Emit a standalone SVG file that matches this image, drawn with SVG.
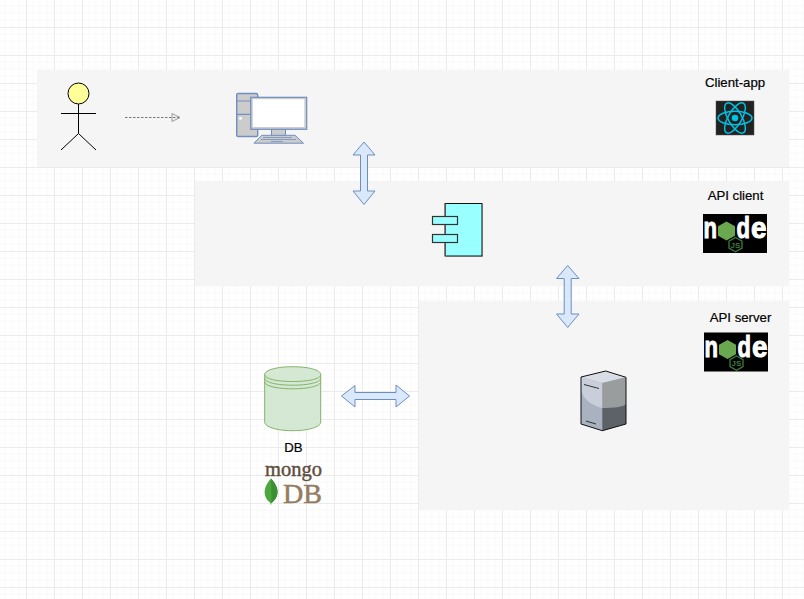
<svg xmlns="http://www.w3.org/2000/svg" width="804" height="599" viewBox="0 0 804 599">
<style>
.panel{fill:#f5f5f5}
.label{font-family:"Liberation Sans",Arial,sans-serif;font-size:13.200px;fill:#000;stroke:#000;stroke-width:0.200;text-anchor:middle}
.dbl{fill:#dae8fc;stroke:#6c8ebf;stroke-width:1}
.cyl{fill:#d5e8d4;stroke:#82b366;stroke-width:1}
.arc{fill:none;stroke:#82b366;stroke-width:1}
.pc{fill:#ccc;stroke:#6f8fc0;stroke-width:1.400}
.nd{font-family:"Liberation Sans",Arial,sans-serif;font-weight:bold;font-size:30px;fill:#fff;stroke:#fff;stroke-width:1}
</style>
<defs>
<pattern id="grid" width="28" height="28" patternUnits="userSpaceOnUse" x="-2" y="-1">
<path d="M7 0V28M14 0V28M21 0V28M0 7H28M0 14H28M0 21H28" fill="none" stroke="#f9f9f9" stroke-width="1"/>
<path d="M0.500 0V28M0 0.500H28" fill="none" stroke="#ebebeb" stroke-width="1"/>
</pattern>
<g id="nodelogo">
<rect width="64" height="39" fill="#000"/>
<text class="nd" x="0.500" y="24" textLength="13.500" lengthAdjust="spacingAndGlyphs">n</text>
<path d="M23.500 7.500L32 12.300V21.700L23.500 26.500L15 21.700V12.300Z" fill="#6aa84f"/>
<text class="nd" x="33.500" y="24" textLength="13.500" lengthAdjust="spacingAndGlyphs">d</text>
<text class="nd" x="48" y="24" textLength="15.500" lengthAdjust="spacingAndGlyphs">e</text>
<path d="M32.500 23.500L39 27.200V34L32.500 37.700L26 34V27.200Z" fill="none" stroke="#3f7a3a" stroke-width="1.300"/>
<text x="32.500" y="33.500" font-family="Liberation Sans, Arial, sans-serif" font-size="8" font-weight="bold" fill="#3f7a3a" text-anchor="middle">JS</text>
</g>
<marker id="open" markerWidth="12" markerHeight="12" refX="9" refY="5" orient="auto" markerUnits="userSpaceOnUse">
<path d="M1 1L9 5L1 9Z" fill="none" stroke="#999" stroke-width="1"/>
</marker>
</defs>
<rect width="804" height="599" fill="#fff"/>
<rect width="804" height="599" fill="url(#grid)"/>

<rect class="panel" x="37" y="70" width="752" height="97"/>
<rect class="panel" x="195" y="181" width="594" height="105"/>
<rect class="panel" x="419" y="301" width="370" height="209"/>

<g id="actor" fill="none" stroke="#000" stroke-width="1">
<circle cx="78.500" cy="93.500" r="10.500" fill="#ffff99"/>
<path d="M78.500 104V133.500M61 113.500H96M78.500 133.500L61 150M78.500 133.500L96 150"/>
</g>

<g id="computer">
<rect class="pc" x="236.700" y="93.500" width="21" height="43" rx="1.500"/>
<path d="M236.700 101H257.700M236.700 114.300H257.700" stroke="#6f8fc0" stroke-width="1.200" fill="none"/>
<circle cx="240.500" cy="118.400" r="1.400" fill="#fff"/>
<rect x="271.500" y="129" width="14" height="6.500" fill="#ccc" stroke="#6f8fc0"/>
<rect x="250.700" y="97.300" width="56" height="32" fill="#ccc" stroke="#6f8fc0" stroke-width="1.200"/>
<rect x="252.800" y="99.200" width="51.500" height="27.800" fill="#fff"/>
<path d="M261.700 135.300H295L303.500 143.200H254Z" fill="#ccc" stroke="#6f8fc0" stroke-width="1"/>
<path d="M263 137.500H292M261 139.500H296M271 141.500H283" stroke="#6f8fc0" stroke-width="0.800" fill="none"/>
</g>

<g id="component">
<rect x="446" y="204" width="37" height="53" fill="#c8c8c8"/>
<rect x="445" y="203.500" width="37" height="52.500" fill="#99ffff" stroke="#111" stroke-width="1"/>
<rect x="445" y="203.500" width="1" height="52.500" fill="#555"/>
<rect x="432.500" y="216.500" width="25" height="8" fill="#99ffff" stroke="#333" stroke-width="1.200"/>
<rect x="432.500" y="234.500" width="25" height="8" fill="#99ffff" stroke="#333" stroke-width="1.200"/>
</g>

<g id="server">
<path d="M581 377L605.700 371L626 377.300V424L602.300 430.700L581 424Z" fill="#a9b2c0"/>
<path d="M581 377L605.700 371L626 377.300L602.300 383Z" fill="#d8dde6"/>
<path d="M581 377L602.300 383V408C592 406 583 399 581 390Z" fill="#c8cfda"/>
<path d="M602.300 383L626 377.300V404C624 407 612 408 602.300 408Z" fill="#9a9d9d"/>
<path d="M602.300 408C612 408 624 407 626 404V424L602.300 430.700Z" fill="#5c6268"/>
<path d="M581 377L605.700 371L626 377.300V424L602.300 430.700L581 424Z" fill="none" stroke="#111" stroke-width="1"/>
<path d="M584 384.500L599 388.500M586 421L596 424" stroke="#333" stroke-width="1" fill="none"/>
</g>

<g id="db">
<path class="cyl" d="M264.700 374.500C264.700 370 277 366.700 292.700 366.700C308.400 366.700 320.700 370 320.700 374.500V422C320.700 427 308.400 430.700 292.700 430.700C277 430.700 264.700 427 264.700 422Z"/>
<path class="arc" d="M264.700 374.500C264.700 379 277 381.500 292.700 381.500C308.400 381.500 320.700 379 320.700 374.500M264.700 378C264.700 382.500 277 385.200 292.700 385.200C308.400 385.200 320.700 382.500 320.700 378M264.700 381.700C264.700 386 277 388.800 292.700 388.800C308.400 388.800 320.700 386 320.700 381.700"/>
<text class="label" x="293.300" y="452">DB</text>
</g>

<g id="mongodb">
<text x="265" y="476" font-family="Liberation Serif, Times New Roman, serif" font-size="20" fill="#5e4d3c" stroke="#5e4d3c" stroke-width="0.400" textLength="57" lengthAdjust="spacingAndGlyphs">mongo</text>
<text x="283" y="503" font-family="Liberation Serif, Times New Roman, serif" font-size="27.500" fill="#957c5f" stroke="#957c5f" stroke-width="0.500" textLength="39" lengthAdjust="spacingAndGlyphs">DB</text>
<path d="M271 478.500C276 484 278 489 277.500 493C277 498 274 501 271.500 503L271 505.500L270.500 503C268 501 265 498 264.700 493C264.500 489 266 484 271 478.500Z" fill="#4aa83c"/>
<path d="M271 478.500C276 484 278 489 277.500 493C277 498 274 501 271.500 503Z" fill="#3d8f33"/>
</g>

<g id="react-logo">
<rect x="716" y="101" width="38" height="34" fill="#222" stroke="#555" stroke-width="0.500"/>
<g fill="none" stroke="#00c2e3" stroke-width="1.500">
<ellipse cx="735" cy="118" rx="17" ry="6.800"/>
<ellipse cx="735" cy="118" rx="17" ry="6.800" transform="rotate(60 735 118)"/>
<ellipse cx="735" cy="118" rx="17" ry="6.800" transform="rotate(-60 735 118)"/>
</g>
<circle cx="735" cy="118" r="3.300" fill="#00c2e3"/>
</g>
<g id="client-app"><text class="label" x="735" y="87">Client-app</text></g>

<g id="api-client">
<text class="label" x="735.500" y="200">API client</text>
<use href="#nodelogo" x="703" y="214"/>
</g>

<g id="api-server">
<text class="label" x="740.500" y="322">API server</text>
<use href="#nodelogo" x="704" y="332.500"/>
</g>

<g id="connectors">
<path d="M125 117.500H180" fill="none" stroke="#777" stroke-width="1" stroke-dasharray="2.500 1.500" marker-end="url(#open)"/>
<path class="dbl" d="M364 142L375 155H367.500V191H375L364 204.500L353 191H360.500V155H353Z"/>
<path class="dbl" d="M567.700 265.500L579 278.500H571.200V314H579L567.700 327.500L556.500 314H564.200V278.500H556.500Z"/>
<path class="dbl" d="M341.500 396L355 385.500V392.500H396V385L409.500 396L396 407V399.500H355V407Z"/>
</g>
</svg>
